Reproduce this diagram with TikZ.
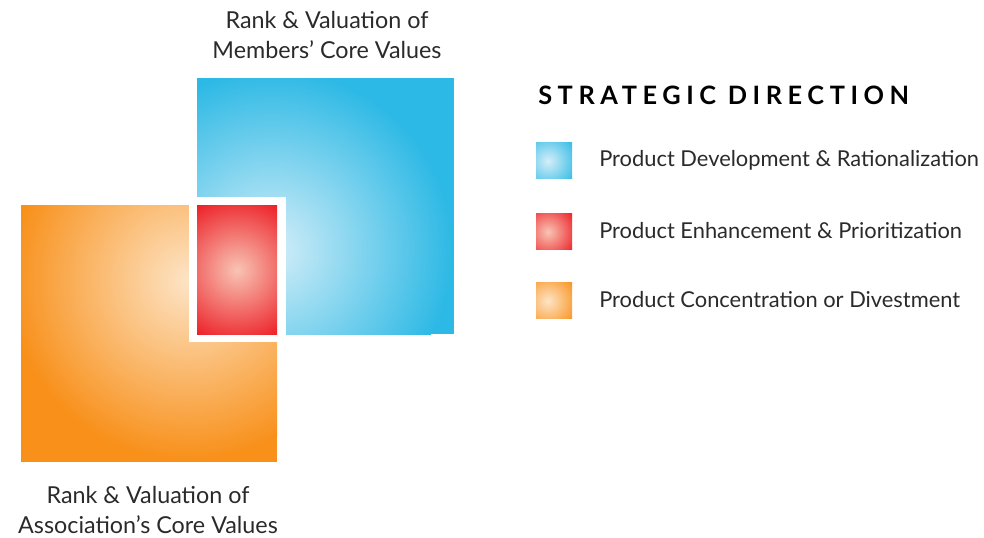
\documentclass[tikz,border=0pt]{standalone}
\usepackage{fontspec}
\setmainfont{Lato}
\usetikzlibrary{positioning}
\definecolor{cyanbox}{HTML}{2DB9E5}
\definecolor{cyanlight}{HTML}{D4EEF8}
\definecolor{redbox}{HTML}{EC1C24}
\definecolor{redlight}{HTML}{F8C4B4}
\definecolor{orangebox}{HTML}{F8901A}
\definecolor{orangelight}{HTML}{FDE4C6}
\definecolor{inktext}{HTML}{2A2A2A}

\begin{document}
\begin{tikzpicture}[x=0.75pt,y=-0.75pt,
    tagtext/.style={text=inktext, font=\fontsize{17.5}{22.5}\selectfont, align=center, inner sep=0pt},
    legtext/.style={text=inktext, font=\fontsize{16.4}{18}\selectfont, anchor=west, inner sep=0pt}]
    \useasboundingbox (0,0) rectangle (984,537);

    % members square (top right)
    \fill[cyanbox] (197,78) rectangle (454,334);
    \begin{scope}
        \clip (197,78) rectangle (454,334);
        \shade[inner color=cyanlight, outer color=cyanbox] (272,250) circle (180);
    \end{scope}
    % association square (bottom left)
    \fill[orangebox] (21,205) rectangle (277,462);
    \begin{scope}
        \clip (21,205) rectangle (277,462);
        \shade[inner color=orangelight, outer color=orangebox] (188,280) circle (180);
    \end{scope}
    % overlap: white frame and red core
    \fill[white] (189,197) rectangle (286,342);
    \fill[redbox] (197,205) rectangle (277,334);
    \begin{scope}
        \clip (197,205) rectangle (277,334);
        \shade[inner color=redlight, outer color=redbox] (237,270) circle (78);
    \end{scope}

    \node[tagtext] (members) at (327,35) {Rank \& Valuation of\\Members’ Core Values};
    \node[tagtext] (assoc) at (148,510) {Rank \& Valuation of\\Association’s Core Values};

    % legend
    \node[text=black, anchor=west, inner sep=0pt,
          font=\fontsize{19}{21}\bfseries\addfontfeature{LetterSpace=22}] (title) at (538,95) {STRATEGIC DIRECTION};
    \foreach \name/\y/\light/\dark/\txt in {
        develop/160/cyanlight/cyanbox/{Product Development \& Rationalization},
        enhance/231/redlight/redbox/{Product Enhancement \& Prioritization},
        concentrate/300/orangelight/orangebox/{Product Concentration or Divestment}}{
        \fill[\dark] (536,\y-18) rectangle (572,\y+18);
        \begin{scope}
            \clip (536,\y-18) rectangle (572,\y+18);
            \shade[inner color=\light, outer color=\dark] (548,\y+1) circle (32);
        \end{scope}
        \node[legtext] (\name) at (599,\y) {\txt};
    }
\end{tikzpicture}
\end{document}
